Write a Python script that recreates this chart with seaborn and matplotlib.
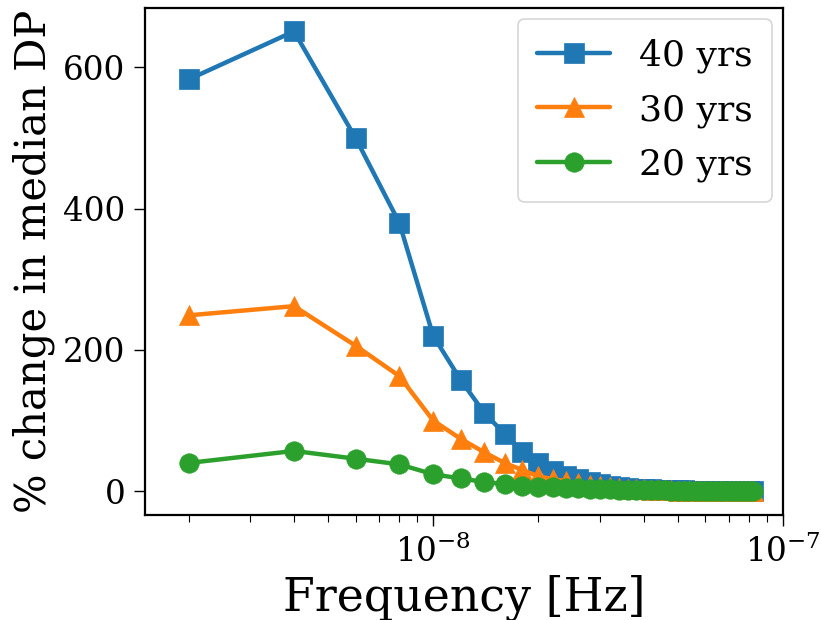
import matplotlib
matplotlib.use("Agg")
import matplotlib.pyplot as plt
import seaborn as sns
import pandas as pd

freq = [2.0e-9, 4.0e-9, 6.0e-9, 8.0e-9, 1.0e-8, 1.2e-8, 1.4e-8, 1.6e-8, 1.8e-8, 2.0e-8,
        2.2e-8, 2.4e-8, 2.6e-8, 2.8e-8, 3.0e-8, 3.2e-8, 3.4e-8, 3.6e-8, 3.8e-8, 4.0e-8,
        4.2e-8, 4.4e-8, 4.6e-8, 4.8e-8, 5.0e-8, 5.2e-8, 5.4e-8, 5.6e-8, 5.8e-8, 6.0e-8,
        6.2e-8, 6.4e-8, 6.6e-8, 6.8e-8, 7.0e-8, 7.2e-8, 7.4e-8, 7.6e-8, 7.8e-8, 8.0e-8,
        8.2e-8]

change_40 = [583, 651, 500, 380, 220, 157, 111, 81, 56, 40,
             29, 22, 17, 13, 10, 7, 5.5, 4.5, 3.5, 3,
             2.5, 2, 1.7, 1.5, 1.2, 1.0, 0.9, 0.8, 0.7, 0.6,
             0.6, 0.5, 0.5, 0.4, 0.4, 0.4, 0.3, 0.3, 0.3, 0.3,
             0.3]
change_30 = [249, 262, 206, 163, 100, 74, 55, 40, 30, 21,
             17, 14, 11, 9, 7, 5.5, 4.5, 3.5, 3, 2.5,
             2, 1.5, 1.2, 1.0, 0.8, 0.6, 0.5, 0.4, 0.3, 0.2,
             0.1, 0.0, 0.0, -0.1, -0.1, -0.2, -0.2, -0.2, -0.3, -0.3,
             -0.3]
change_20 = [40, 57, 46, 38, 24, 18, 13, 10, 8, 6.5,
             5.5, 4.5, 4, 3.5, 3, 2.5, 2.2, 2, 1.8, 1.5,
             1.3, 1.2, 1.0, 0.9, 0.8, 0.7, 0.6, 0.5, 0.5, 0.4,
             0.4, 0.3, 0.3, 0.3, 0.2, 0.2, 0.2, 0.2, 0.1, 0.1,
             0.1]

labels = ["40 yrs", "30 yrs", "20 yrs"]
series = [change_40, change_30, change_20]

rows = []
for lab, vals in zip(labels, series):
    for f, v in zip(freq, vals):
        rows.append({"freq": f, "change": v, "span": lab})
df = pd.DataFrame(rows)

sns.set_style("ticks")
plt.rcParams["font.family"] = ["DejaVu Serif"]
plt.rcParams["mathtext.fontset"] = "dejavuserif"
plt.rcParams["text.color"] = "black"
plt.rcParams["axes.labelcolor"] = "black"
plt.rcParams["xtick.color"] = "black"
plt.rcParams["ytick.color"] = "black"

fig = plt.figure(figsize=(8.21, 6.2), dpi=100)
ax = fig.add_axes([0.1766, 0.169, 0.7771, 0.818])

palette = {"40 yrs": "#1f77b4", "30 yrs": "#ff7f0e", "20 yrs": "#2ca02c"}
markers = {"40 yrs": "s", "30 yrs": "^", "20 yrs": "o"}

sns.lineplot(data=df, x="freq", y="change", hue="span", style="span",
             hue_order=labels, style_order=labels, palette=palette,
             markers=markers, dashes=False, linewidth=3.2, markersize=14,
             ax=ax, legend=True)
for ln in ax.lines:
    ln.set_markeredgecolor(ln.get_color())
    ln.set_markeredgewidth(0.5)

ax.set_xscale("log")
ax.set_xlim(1.5e-9, 1.0e-7)
ax.set_ylim(-34, 684)
ax.set_yticks([0, 200, 400, 600])

ax.set_xlabel("Frequency [Hz]", fontsize=33, color="black")
ax.set_ylabel("% change in median DP", fontsize=30, color="black", labelpad=6)
ax.tick_params(axis="both", which="major", labelsize=23.5, length=8, width=1, pad=6,
               colors="black")
ax.tick_params(axis="x", which="minor", length=5, width=0.8, colors="black")
for sp in ax.spines.values():
    sp.set_linewidth(1.6)
    sp.set_color("black")

leg = ax.legend(fontsize=26, loc="upper right", frameon=True, handlelength=2,
                borderaxespad=0.3, borderpad=0.55, labelspacing=0.55)
leg.get_frame().set_edgecolor("#cccccc")
leg.get_frame().set_linewidth(1.2)
for t in leg.get_texts():
    t.set_color("black")
for h in leg.legend_handles:
    h.set_markeredgecolor(h.get_color())

fig.savefig("out.png", dpi=100)
